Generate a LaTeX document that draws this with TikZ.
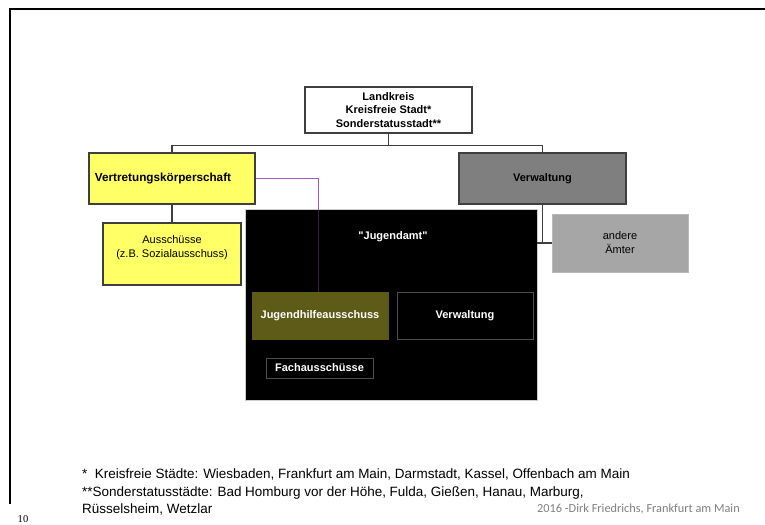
\documentclass[tikz,border=0pt]{standalone}
\usepackage{fontspec}
\setmainfont{Liberation Sans}
\newfontfamily\creditfont{Carlito}
\newfontfamily\pagefont{Liberation Serif}
\usepackage{tikz}
\usetikzlibrary{positioning, calc}
\definecolor{boxyellow}{HTML}{FFFF66}
\definecolor{boxgrey}{HTML}{7F7F7F}
\definecolor{boxlight}{HTML}{A6A6A6}
\definecolor{boxolive}{HTML}{5E5A17}
\definecolor{edgedark}{HTML}{3F3F3F}
\definecolor{linkpurple}{HTML}{A457C0}

\begin{document}
\begin{tikzpicture}[x=0.03cm, y=-0.03cm,
    orgbox/.style={draw=edgedark, line width=1.3pt, inner sep=0pt, align=center, font=\fontsize{9.4}{12}\selectfont},
    darkbox/.style={draw=gray!60!black, line width=0.6pt, fill=black, text=white, inner sep=0pt, align=center, font=\bfseries\fontsize{9.4}{12}\selectfont},
    link/.style={draw=edgedark, line width=0.9pt},
    note/.style={anchor=west, inner sep=0pt, font=\fontsize{11.5}{13}\selectfont}]
    \useasboundingbox (0,0) rectangle (765,524);
    % slide frame
    \draw[line width=1.2pt] (765,9) -- (10,9) -- (10,504);

    % top level
    \node[orgbox, fill=white, minimum width=5.01cm, minimum height=1.38cm, font=\bfseries\fontsize{9.4}{11.2}\selectfont]
        (kreis) at (388.5,110) {Landkreis\\Kreisfreie Stadt*\\Sonderstatusstadt**};
    \node[orgbox, fill=boxyellow, minimum width=4.98cm, minimum height=1.53cm, text width=4.62cm, align=left, font=\bfseries\fontsize{10}{12}\selectfont]
        (vertr) at (172,178.5) {Vertretungskörperschaft};
    \node[orgbox, fill=boxgrey, minimum width=5.01cm, minimum height=1.53cm, font=\bfseries\fontsize{9.4}{12}\selectfont]
        (verw) at (542.5,178.5) {Verwaltung};

    % second level
    \node[orgbox, fill=boxyellow, minimum width=4.14cm, minimum height=1.86cm, text depth=0.45cm]
        (aussch) at (172,254) {Ausschüsse\\(z.B. Sozialausschuss)};
    \node[orgbox, draw=gray!55, line width=0.8pt, fill=boxlight, minimum width=4.08cm, minimum height=1.74cm]
        (andere) at (620,243) {andere\\Ämter};

    % Jugendamt block
    \node[darkbox, draw=gray!40, minimum width=8.76cm, minimum height=5.73cm] (jugendamt) at (391,304.5) {};
    \node[text=white, font=\bfseries\fontsize{9.4}{12}\selectfont] (jatitle) at (393,237) {\textquotedbl Jugendamt\textquotedbl};
    \node[darkbox, fill=boxolive, draw=boxolive, minimum width=4.08cm, minimum height=1.41cm] (jha) at (320,315.5) {Jugendhilfeausschuss};
    \node[darkbox, minimum width=4.08cm, minimum height=1.41cm] (javerw) at (465,315.5) {Verwaltung};
    \node[darkbox, minimum width=3.21cm, minimum height=0.6cm] (fach) at (319.5,368) {Fachausschüsse};

    % connectors
    \coordinate (split) at ($(kreis.south)+(0,12)$);
    \draw[link] (kreis.south) -- (split);
    \draw[link] (vertr.north) |- (split) -| (verw.north);
    \draw[link] (vertr.south) -- (aussch.north);
    \draw[link] (verw.south) -- (verw.south |- andere.west);
    \draw[link] (jugendamt.east |- andere.west) -- (andere.west);
    \draw[linkpurple, line width=0.7pt] (vertr.east) -| ($(jha.north)+(-2,0)$);
    \draw[linkpurple!35!black, line width=0.7pt] ($(jha.north)+(-2,0)$) -- ($(jha.north |- jugendamt.north)+(-2,1)$);

    % footnotes
    \node[note] (fn1) at (82,474) {*\ \ Kreisfreie Städte: Wiesbaden, Frankfurt am Main, Darmstadt, Kassel, Offenbach am Main};
    \node[note] (fn2) at (82,493) {**Sonderstatusstädte: Bad Homburg vor der Höhe, Fulda, Gießen, Hanau, Marburg,};
    \node[note] (fn3) at (82,509) {Rüsselsheim, Wetzlar};
    \node[anchor=east, inner sep=0pt, text=gray, font=\creditfont\fontsize{10.5}{12}\selectfont] (credit) at (740,509) {2016 -Dirk Friedrichs, Frankfurt am Main};
    \node[inner sep=0pt, font=\pagefont\fontsize{9}{10}\selectfont] (pagenr) at (23,519) {10};
\end{tikzpicture}
\end{document}
